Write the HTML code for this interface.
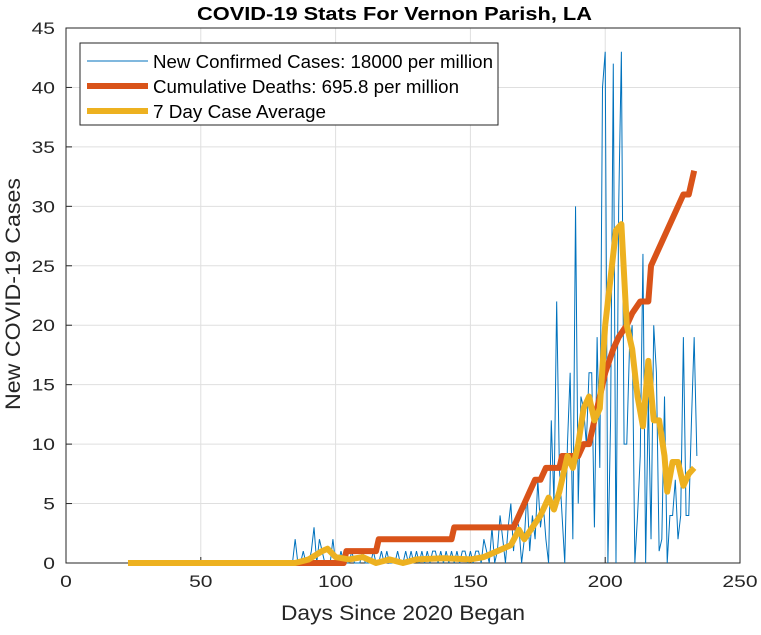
<!DOCTYPE html>
<html><head><meta charset="utf-8"><style>
body{margin:0;background:#fff;font-family:"Liberation Sans",sans-serif}
svg text{font-family:"Liberation Sans",sans-serif}
</style></head><body>
<svg id="c" width="761" height="630"></svg>
<script>
const xTicks=[0,50,100,150,200,250];
const yTicks=[0,5,10,15,20,25,30,35,40,45];
const caseStart=85;
const cases=[2,0,0,1,0,0,1,3,0,2, 1,0,0,0,2,0,0,1,0,0, 0,1,0,0,0,1,0,0,0,1, 0,0,1,0,1,0,0,0,1,0,
0,1,0,1,0,1,0,1,0,1, 0,1,1,0,1,0,1,0,1,0, 1,0,1,1,0,1,0,1,1,0, 2,1,0,3,0,1,4,2,0,3,
5,1,4,3,0,2,6,1,4,2, 7,3,5,2,0,12,5,22,8,4, 0,10,16,2,30,5,14,13,10,16, 16,3,19,8,40,43,0,12,42,0,
30,43,10,10,18,20,0,4,9,26, 0,14,2,20,16,1,2,14,0,4, 4,7,2,4,19,4,4,12,19,9];
const deathDays=[23,103,104,115,116,143,144,166,168,170,172,174,176,178,183,184,190,192,194,197,200,203,205,208,210,213,216,217,219,221,223,225,227,229,231,233];
const deathVals=[0,0,1,1,2,2,3,3,4,5,6,7,7,8,8,9,9,10,10,13,16,18,19,20,21,22,22,25,26,27,28,29,30,31,31,33];
const avgDays=[23,85,90,95,97,100,105,110,115,120,125,130,140,150,155,160,165,168,170,173,176,179,181,183,186,188,190,192,194,196,198,200,202,204,206,208,210,212,214,216,218,220,222,223,225,227,229,231,233];
const avgVals=[0,0,0.3,1,1.2,0.5,0.3,0.5,0,0.3,0,0.3,0.4,0.3,0.5,1,1.5,2.8,2,3,4,5.5,4.5,6,9,8,10,13,14,12,13,20,24,28,28.5,20,18,14,11.5,17,12,12,9,6,8.5,8.5,6.5,7.5,8];
const L=66,R=740,T=28,B=563;
const sx=v=>L+(v-0)/250*(R-L), sy=v=>B-v/45*(B-T);
const svg=document.getElementById('c');
const NS='http://www.w3.org/2000/svg';
function mk(t,a,p){const e=document.createElementNS(NS,t);for(const k in a)e.setAttribute(k,a[k]);(p||svg).appendChild(e);return e;}
let e=mk('rect',{x:L,y:T,width:R-L,height:B-T,fill:'#fff'});


xTicks.forEach(t=>{const g=mk('line',{x1:sx(t),x2:sx(t),y1:T,y2:B,stroke:'#dfdfdf'});


mk('line',{x1:sx(t),x2:sx(t),y1:B,y2:B-6,stroke:'#262626'});
const s=String(t);
const tx=mk('text',{x:sx(t),y:B+24,'text-anchor':'middle','font-size':17,fill:'#262626',textLength:s.length*11.7,lengthAdjust:'spacingAndGlyphs'});tx.textContent=s;

});
yTicks.forEach(t=>{const g=mk('line',{x1:L,x2:R,y1:sy(t),y2:sy(t),stroke:'#dfdfdf'});


mk('line',{x1:L,x2:L+6,y1:sy(t),y2:sy(t),stroke:'#262626'});
const s=String(t);
const tx=mk('text',{x:L-11,y:sy(t)+6,'text-anchor':'end','font-size':17,fill:'#262626',textLength:s.length*11.7,lengthAdjust:'spacingAndGlyphs'});tx.textContent=s;

});
e=mk('rect',{x:L,y:T,width:R-L,height:B-T,fill:'none',stroke:'#262626','stroke-width':1});


let pts=[];
pts.push([sx(23),sy(0)]);
pts.push([sx(caseStart-1),sy(0)]);
cases.forEach((v,i)=>pts.push([sx(caseStart+i),sy(v)]));
e=mk('polyline',{points:pts.map(p=>p.join(',')).join(' '),fill:'none',stroke:'#0072bd','stroke-width':1});


pts=deathDays.map((d,i)=>[sx(d),sy(deathVals[i])]);
e=mk('polyline',{points:pts.map(p=>p.join(',')).join(' '),fill:'none',stroke:'#d95319','stroke-width':6,'stroke-linejoin':'round'});


pts=avgDays.map((d,i)=>[sx(d),sy(avgVals[i])]);
e=mk('polyline',{points:pts.map(p=>p.join(',')).join(' '),fill:'none',stroke:'#edb120','stroke-width':6,'stroke-linejoin':'round'});


const lg=mk('g',{});


mk('rect',{x:80,y:43,width:418,height:82,fill:'#fff',stroke:'#262626'},lg);
const items=[['New Confirmed Cases: 18000 per million','#0072bd',1,340],['Cumulative Deaths: 695.8 per million','#d95319',6,306],['7 Day Case Average','#edb120',6,173]];
items.forEach((it,i)=>{const y=61+i*25;
const g=mk('g',{},lg);


mk('line',{x1:87,x2:148,y1:y,y2:y,stroke:it[1],'stroke-width':it[2]},g);
const t=mk('text',{x:153,y:y+7,'font-size':18,fill:'#000',textLength:it[3],lengthAdjust:'spacingAndGlyphs'},g);t.textContent=it[0];});
e=mk('text',{x:197,y:20,'font-size':18,'font-weight':'bold',fill:'#000',textLength:395,lengthAdjust:'spacingAndGlyphs'});e.textContent='COVID-19 Stats For Vernon Parish, LA';


e=mk('text',{x:281,y:620,'font-size':21,fill:'#262626',textLength:244,lengthAdjust:'spacingAndGlyphs'});e.textContent='Days Since 2020 Began';


e=mk('text',{x:0,y:0,'text-anchor':'middle','font-size':21,fill:'#262626',textLength:232,lengthAdjust:'spacingAndGlyphs',transform:'translate(20,294) rotate(-90)'});e.textContent='New COVID-19 Cases';


</script>
</body></html>
